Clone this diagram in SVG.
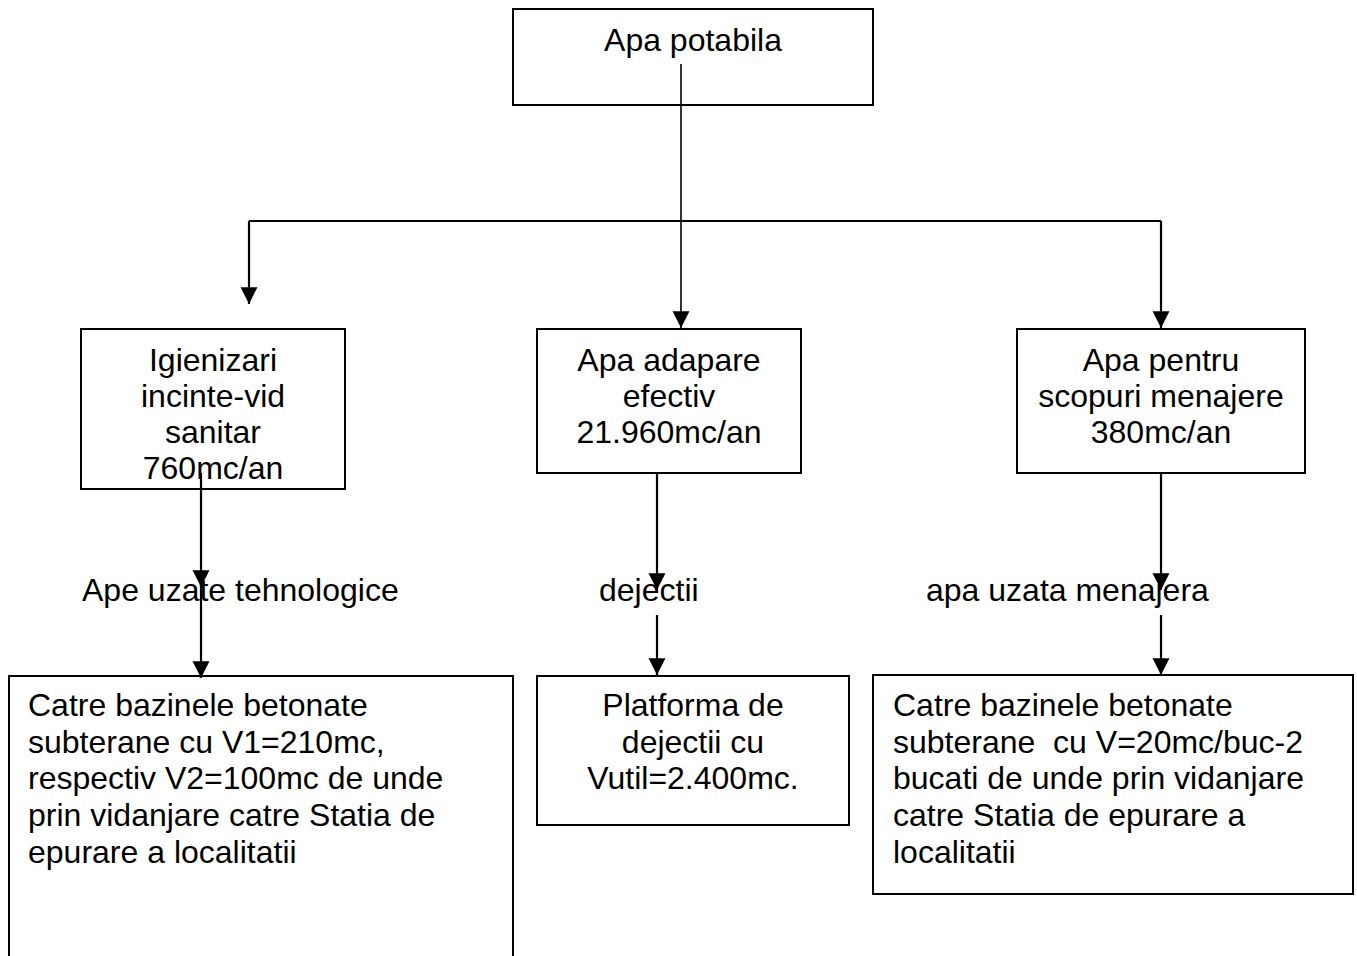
<svg xmlns="http://www.w3.org/2000/svg" width="1357" height="956" viewBox="0 0 1357 956">
<style>
.box{fill:#fff;stroke:#000;stroke-width:2}
.t{font-family:"Liberation Sans",Arial,sans-serif;font-size:32px;fill:#000}
.c{text-anchor:middle}
.ln{fill:none;stroke:#000;stroke-width:2.2}
</style>
<defs>
<marker id="ah" markerUnits="userSpaceOnUse" markerWidth="18" markerHeight="18" viewBox="0 0 16 16" refX="15" refY="8" orient="auto">
<path d="M0,0.5 L15,8 L0,15.5 Z" fill="#000"/>
</marker>
</defs>
<rect width="1357" height="956" fill="#fff"/>
<g id="n-apa-potabila">
<rect class="box" x="513" y="9" width="360" height="96"/>
<text class="t c" x="693" y="51">Apa potabila</text>
</g>
<g id="n-igienizari">
<rect class="box" x="81" y="329" width="264" height="160"/>
<text class="t c" x="213" y="371">Igienizari</text>
<text class="t c" x="213" y="407">incinte-vid</text>
<text class="t c" x="213" y="443">sanitar</text>
<text class="t c" x="213" y="479">760mc/an</text>
</g>
<g id="n-adapare">
<rect class="box" x="537" y="329" width="264" height="144"/>
<text class="t c" x="669" y="371">Apa adapare</text>
<text class="t c" x="669" y="407">efectiv</text>
<text class="t c" x="669" y="443">21.960mc/an</text>
</g>
<g id="n-menajere">
<rect class="box" x="1017" y="329" width="288" height="144"/>
<text class="t c" x="1161" y="371">Apa pentru</text>
<text class="t c" x="1161" y="407">scopuri menajere</text>
<text class="t c" x="1161" y="443">380mc/an</text>
</g>
<g id="n-bazine-1">
<rect class="box" x="9" y="676" width="504" height="300"/>
<text class="t" x="28" y="716">Catre bazinele betonate</text>
<text class="t" x="28" y="753">subterane cu V1=210mc,</text>
<text class="t" x="28" y="789">respectiv V2=100mc de unde</text>
<text class="t" x="28" y="826">prin vidanjare catre Statia de</text>
<text class="t" x="28" y="863">epurare a localitatii</text>
</g>
<g id="n-platforma">
<rect class="box" x="537" y="676" width="312" height="149"/>
<text class="t c" x="693" y="716">Platforma de</text>
<text class="t c" x="693" y="753">dejectii cu</text>
<text class="t c" x="693" y="789">Vutil=2.400mc.</text>
</g>
<g id="n-bazine-2">
<rect class="box" x="873" y="675" width="480" height="219"/>
<text class="t" x="893" y="716">Catre bazinele betonate</text>
<text class="t" x="893" y="753" xml:space="preserve">subterane  cu V=20mc/buc-2</text>
<text class="t" x="893" y="789">bucati de unde prin vidanjare</text>
<text class="t" x="893" y="826">catre Statia de epurare a</text>
<text class="t" x="893" y="863">localitatii</text>
</g>
<g id="labels">
<text class="t" x="82" y="601">Ape uzate tehnologice</text>
<text class="t" x="599" y="601">dejectii</text>
<text class="t" x="926" y="601">apa uzata menajera</text>
</g>
<g id="connectors">
<line x1="681" y1="64" x2="681" y2="328" stroke="#000" stroke-width="1.6" marker-end="url(#ah)"/>
<line class="ln" x1="249" y1="221" x2="1161" y2="221"/>
<line class="ln" x1="249" y1="221" x2="249" y2="304" marker-end="url(#ah)"/>
<line class="ln" x1="1161" y1="221" x2="1161" y2="328" marker-end="url(#ah)"/>
<line class="ln" x1="201" y1="473" x2="201" y2="587" marker-end="url(#ah)"/>
<line class="ln" x1="201" y1="585" x2="201" y2="678" marker-end="url(#ah)"/>
<line class="ln" x1="657" y1="473" x2="657" y2="590" marker-end="url(#ah)"/>
<line class="ln" x1="657" y1="615" x2="657" y2="675" marker-end="url(#ah)"/>
<line class="ln" x1="1161" y1="473" x2="1161" y2="590" marker-end="url(#ah)"/>
<line class="ln" x1="1161" y1="615" x2="1161" y2="675" marker-end="url(#ah)"/>
</g>
</svg>
